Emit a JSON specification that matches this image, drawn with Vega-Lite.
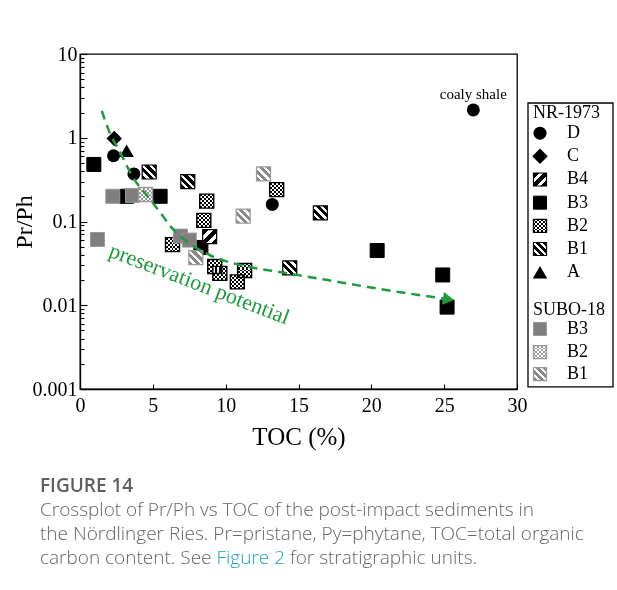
{
  "$schema": "https://vega.github.io/schema/vega-lite/v6.json",
  "background": "white",
  "padding": {"top": 43, "left": 11, "right": 0, "bottom": 0},
  "config": {
    "view": {"stroke": "black", "strokeWidth": 1.3},
    "axis": {
      "labelFont": "Liberation Serif",
      "titleFont": "Liberation Serif",
      "labelColor": "black",
      "titleColor": "black",
      "domainColor": "black",
      "domainWidth": 1.3,
      "tickColor": "black",
      "tickWidth": 1.1,
      "grid": false,
      "titleFontWeight": "normal"
    },
    "text": {"font": "Liberation Serif"}
  },
  "datasets": {
    "points": [
      {"core": "NR-1973", "unit": "D", "toc": 2.3, "prph": 0.61},
      {"core": "NR-1973", "unit": "D", "toc": 3.7, "prph": 0.37},
      {"core": "NR-1973", "unit": "D", "toc": 13.2, "prph": 0.16},
      {"core": "NR-1973", "unit": "D", "toc": 27.0, "prph": 2.15},
      {"core": "NR-1973", "unit": "C", "toc": 2.35, "prph": 0.98},
      {"core": "NR-1973", "unit": "A", "toc": 3.2, "prph": 0.7},
      {"core": "NR-1973", "unit": "B3", "toc": 0.95, "prph": 0.48},
      {"core": "NR-1973", "unit": "B3", "toc": 3.2, "prph": 0.2},
      {"core": "NR-1973", "unit": "B3", "toc": 5.5, "prph": 0.2},
      {"core": "NR-1973", "unit": "B3", "toc": 8.3, "prph": 0.049},
      {"core": "NR-1973", "unit": "B3", "toc": 20.4, "prph": 0.045},
      {"core": "NR-1973", "unit": "B3", "toc": 24.9, "prph": 0.023},
      {"core": "NR-1973", "unit": "B3", "toc": 25.2, "prph": 0.0095},
      {"core": "NR-1973", "unit": "B1", "toc": 4.75, "prph": 0.39},
      {"core": "NR-1973", "unit": "B1", "toc": 7.4, "prph": 0.3},
      {"core": "NR-1973", "unit": "B1", "toc": 16.5, "prph": 0.127},
      {"core": "NR-1973", "unit": "B1", "toc": 14.4, "prph": 0.028},
      {"core": "NR-1973", "unit": "B4", "toc": 8.9, "prph": 0.066},
      {"core": "NR-1973", "unit": "B2", "toc": 13.5, "prph": 0.24},
      {"core": "NR-1973", "unit": "B2", "toc": 8.7, "prph": 0.175},
      {"core": "NR-1973", "unit": "B2", "toc": 8.5, "prph": 0.103},
      {"core": "NR-1973", "unit": "B2", "toc": 6.35, "prph": 0.053},
      {"core": "NR-1973", "unit": "B2", "toc": 9.25, "prph": 0.029},
      {"core": "NR-1973", "unit": "B2", "toc": 9.6, "prph": 0.024},
      {"core": "NR-1973", "unit": "B2", "toc": 10.8, "prph": 0.019},
      {"core": "NR-1973", "unit": "B2", "toc": 11.3, "prph": 0.026},
      {"core": "SUBO-18", "unit": "B3", "toc": 1.2, "prph": 0.061},
      {"core": "SUBO-18", "unit": "B3", "toc": 2.25, "prph": 0.2},
      {"core": "SUBO-18", "unit": "B3", "toc": 3.6, "prph": 0.205},
      {"core": "SUBO-18", "unit": "B3", "toc": 6.9, "prph": 0.067},
      {"core": "SUBO-18", "unit": "B3", "toc": 7.5, "prph": 0.06},
      {"core": "SUBO-18", "unit": "B2", "toc": 4.5, "prph": 0.21},
      {"core": "SUBO-18", "unit": "B1", "toc": 12.6, "prph": 0.37},
      {"core": "SUBO-18", "unit": "B1", "toc": 11.2, "prph": 0.116},
      {"core": "SUBO-18", "unit": "B1", "toc": 7.95, "prph": 0.037}
    ],
    "trend": [
      {"toc": 1.5, "prph": 2.1},
      {"toc": 1.9, "prph": 1.32},
      {"toc": 2.9, "prph": 0.6},
      {"toc": 3.5, "prph": 0.37},
      {"toc": 4.9, "prph": 0.176},
      {"toc": 5.6, "prph": 0.122},
      {"toc": 6.2, "prph": 0.088},
      {"toc": 7.0, "prph": 0.064},
      {"toc": 7.85, "prph": 0.05},
      {"toc": 9.0, "prph": 0.039},
      {"toc": 11.5, "prph": 0.029},
      {"toc": 14.0, "prph": 0.0245},
      {"toc": 17.0, "prph": 0.02},
      {"toc": 19.75, "prph": 0.0165},
      {"toc": 22.0, "prph": 0.0143},
      {"toc": 25.3, "prph": 0.0118}
    ],
    "notes": [
      {"kind": "sample", "toc": 27.0, "prph": 3.33, "text": "coaly shale"},
      {"kind": "trend", "toc": 8.2, "prph": 0.018, "text": "preservation potential"}
    ],
    "legend": [
      {"kind": "header", "core": "NR-1973", "unit": "", "label": "NR-1973", "slot": 0},
      {"kind": "item", "core": "NR-1973", "unit": "D", "label": "D", "slot": 1},
      {"kind": "item", "core": "NR-1973", "unit": "C", "label": "C", "slot": 2},
      {"kind": "item", "core": "NR-1973", "unit": "B4", "label": "B4", "slot": 3},
      {"kind": "item", "core": "NR-1973", "unit": "B3", "label": "B3", "slot": 4},
      {"kind": "item", "core": "NR-1973", "unit": "B2", "label": "B2", "slot": 5},
      {"kind": "item", "core": "NR-1973", "unit": "B1", "label": "B1", "slot": 6},
      {"kind": "item", "core": "NR-1973", "unit": "A", "label": "A", "slot": 7},
      {"kind": "header", "core": "SUBO-18", "unit": "", "label": "SUBO-18", "slot": 8.5},
      {"kind": "item", "core": "SUBO-18", "unit": "B3", "label": "B3", "slot": 9.45},
      {"kind": "item", "core": "SUBO-18", "unit": "B2", "label": "B2", "slot": 10.45},
      {"kind": "item", "core": "SUBO-18", "unit": "B1", "label": "B1", "slot": 11.4}
    ],
    "caption": [
      {"line": 0, "part": "head", "text": "FIGURE 14"},
      {"line": 1, "part": "body", "text": "Crossplot of Pr/Ph vs TOC of the post-impact sediments in"},
      {"line": 2, "part": "body", "text": "the Nördlinger Ries. Pr=pristane, Py=phytane, TOC=total organic"},
      {"line": 3, "part": "linked", "text": "carbon content. See Figure 2 for stratigraphic units."}
    ]
  },
  "vconcat": [
    {
      "hconcat": [
        {
          "width": 437,
          "height": 335,
          "encoding": {
            "x": {
              "field": "toc",
              "type": "quantitative",
              "title": "TOC (%)",
              "scale": {"domain": [0, 30], "nice": false, "zero": false},
              "axis": {
                "values": [0, 5, 10, 15, 20, 25, 30],
                "tickSize": -5,
                "labelPadding": 11,
                "labelFontSize": 20,
                "labelFlush": false,
                "labelOverlap": false,
                "titleFontSize": 25,
                "titlePadding": 9
              }
            },
            "y": {
              "field": "prph",
              "type": "quantitative",
              "title": "Pr/Ph",
              "scale": {"type": "log", "domain": [0.001, 10], "nice": false},
              "axis": {
                "values": [0.001, 0.002, 0.003, 0.004, 0.005, 0.006, 0.007, 0.008, 0.009,
                           0.01, 0.02, 0.03, 0.04, 0.05, 0.06, 0.07, 0.08, 0.09,
                           0.1, 0.2, 0.3, 0.4, 0.5, 0.6, 0.7, 0.8, 0.9,
                           1, 2, 3, 4, 5, 6, 7, 8, 9, 10],
                "tickSize": {"condition": {"test": "indexof([0.001, 0.01, 0.1, 1, 10], datum.value) >= 0", "value": -7}, "value": -4},
                "labelExpr": "indexof([0.001, 0.01, 0.1, 1, 10], datum.value) >= 0 ? format(datum.value, '~g') : ''",
                "labelPadding": 10,
                "labelFontSize": 20,
                "labelBaseline": "middle",
                "labelFlush": false,
                "labelOverlap": false,
                "titleFontSize": 24,
                "titlePadding": -4
              }
            }
          },
          "layer": [
            {
              "data": {"name": "points"},
              "transform": [{"filter": "datum.core == 'NR-1973' && datum.unit == 'B3'"}],
              "mark": {"type": "point", "shape": "square", "filled": true, "size": 196, "fill": "black", "stroke": "black", "strokeWidth": 1, "opacity": 1}
            },
            {
              "data": {"name": "points"},
              "transform": [{"filter": "datum.core == 'NR-1973' && datum.unit == 'B2'"}],
              "layer": [
                {"mark": {"type": "point", "shape": "square", "filled": true, "size": 196, "opacity": 1, "strokeWidth": 0,
                  "fill": {"gradient": "linear", "x1": 0, "y1": 0, "x2": 1, "y2": 0, "stops": [
                    {"offset": 0, "color": "black"}, {"offset": 0.143, "color": "black"}, {"offset": 0.143, "color": "white"}, {"offset": 0.286, "color": "white"},
                    {"offset": 0.286, "color": "black"}, {"offset": 0.429, "color": "black"}, {"offset": 0.429, "color": "white"}, {"offset": 0.571, "color": "white"},
                    {"offset": 0.571, "color": "black"}, {"offset": 0.714, "color": "black"}, {"offset": 0.714, "color": "white"}, {"offset": 0.857, "color": "white"},
                    {"offset": 0.857, "color": "black"}, {"offset": 1, "color": "black"}]}}},
                {"mark": {"type": "point", "shape": "square", "filled": true, "size": 196, "opacity": 1, "strokeWidth": 0, "blend": "difference",
                  "fill": {"gradient": "linear", "x1": 0, "y1": 0, "x2": 0, "y2": 1, "stops": [
                    {"offset": 0, "color": "black"}, {"offset": 0.143, "color": "black"}, {"offset": 0.143, "color": "white"}, {"offset": 0.286, "color": "white"},
                    {"offset": 0.286, "color": "black"}, {"offset": 0.429, "color": "black"}, {"offset": 0.429, "color": "white"}, {"offset": 0.571, "color": "white"},
                    {"offset": 0.571, "color": "black"}, {"offset": 0.714, "color": "black"}, {"offset": 0.714, "color": "white"}, {"offset": 0.857, "color": "white"},
                    {"offset": 0.857, "color": "black"}, {"offset": 1, "color": "black"}]}}},
                {"mark": {"type": "point", "shape": "square", "filled": false, "size": 196, "opacity": 1, "stroke": "black", "strokeWidth": 1.4}}
              ]
            },
            {
              "data": {"name": "points"},
              "transform": [{"filter": "datum.core == 'NR-1973' && datum.unit == 'B1'"}],
              "mark": {"type": "point", "shape": "square", "filled": true, "size": 196, "opacity": 1, "stroke": "black", "strokeWidth": 1.2,
                "fill": {"gradient": "linear", "x1": 0, "y1": 1, "x2": 1, "y2": 0, "stops": [
                  {"offset": 0, "color": "black"}, {"offset": 0.17, "color": "black"}, {"offset": 0.17, "color": "white"}, {"offset": 0.29, "color": "white"},
                  {"offset": 0.29, "color": "black"}, {"offset": 0.44, "color": "black"}, {"offset": 0.44, "color": "white"}, {"offset": 0.56, "color": "white"},
                  {"offset": 0.56, "color": "black"}, {"offset": 0.71, "color": "black"}, {"offset": 0.71, "color": "white"}, {"offset": 0.83, "color": "white"},
                  {"offset": 0.83, "color": "black"}, {"offset": 1, "color": "black"}]}}
            },
            {
              "data": {"name": "points"},
              "transform": [{"filter": "datum.core == 'NR-1973' && datum.unit == 'B4'"}],
              "mark": {"type": "point", "shape": "square", "filled": true, "size": 196, "opacity": 1, "stroke": "black", "strokeWidth": 1.2,
                "fill": {"gradient": "linear", "x1": 0, "y1": 0, "x2": 1, "y2": 1, "stops": [
                  {"offset": 0, "color": "black"}, {"offset": 0.22, "color": "black"}, {"offset": 0.22, "color": "white"}, {"offset": 0.4, "color": "white"},
                  {"offset": 0.4, "color": "black"}, {"offset": 0.6, "color": "black"}, {"offset": 0.6, "color": "white"}, {"offset": 0.78, "color": "white"},
                  {"offset": 0.78, "color": "black"}, {"offset": 1, "color": "black"}]}}
            },
            {
              "data": {"name": "points"},
              "transform": [{"filter": "datum.core == 'NR-1973' && datum.unit == 'D'"}],
              "mark": {"type": "point", "shape": "circle", "filled": true, "size": 169, "color": "black", "opacity": 1}
            },
            {
              "data": {"name": "points"},
              "transform": [{"filter": "datum.core == 'NR-1973' && datum.unit == 'C'"}],
              "mark": {"type": "point", "shape": "diamond", "filled": true, "size": 240, "color": "black", "opacity": 1}
            },
            {
              "data": {"name": "points"},
              "transform": [{"filter": "datum.core == 'NR-1973' && datum.unit == 'A'"}],
              "mark": {"type": "point", "shape": "triangle-up", "filled": true, "size": 210, "color": "black", "opacity": 1}
            },
            {
              "data": {"name": "points"},
              "transform": [{"filter": "datum.core == 'SUBO-18' && datum.unit == 'B3'"}],
              "mark": {"type": "point", "shape": "square", "filled": true, "size": 196, "fill": "#7f7f7f", "stroke": "#999999", "strokeWidth": 1, "opacity": 1}
            },
            {
              "data": {"name": "points"},
              "transform": [{"filter": "datum.core == 'SUBO-18' && datum.unit == 'B2'"}],
              "layer": [
                {"mark": {"type": "point", "shape": "square", "filled": true, "size": 196, "opacity": 1, "strokeWidth": 0,
                  "fill": {"gradient": "linear", "x1": 0, "y1": 0, "x2": 1, "y2": 0, "stops": [
                    {"offset": 0, "color": "black"}, {"offset": 0.143, "color": "black"}, {"offset": 0.143, "color": "white"}, {"offset": 0.286, "color": "white"},
                    {"offset": 0.286, "color": "black"}, {"offset": 0.429, "color": "black"}, {"offset": 0.429, "color": "white"}, {"offset": 0.571, "color": "white"},
                    {"offset": 0.571, "color": "black"}, {"offset": 0.714, "color": "black"}, {"offset": 0.714, "color": "white"}, {"offset": 0.857, "color": "white"},
                    {"offset": 0.857, "color": "black"}, {"offset": 1, "color": "black"}]}}},
                {"mark": {"type": "point", "shape": "square", "filled": true, "size": 196, "opacity": 1, "strokeWidth": 0, "blend": "difference",
                  "fill": {"gradient": "linear", "x1": 0, "y1": 0, "x2": 0, "y2": 1, "stops": [
                    {"offset": 0, "color": "black"}, {"offset": 0.143, "color": "black"}, {"offset": 0.143, "color": "white"}, {"offset": 0.286, "color": "white"},
                    {"offset": 0.286, "color": "black"}, {"offset": 0.429, "color": "black"}, {"offset": 0.429, "color": "white"}, {"offset": 0.571, "color": "white"},
                    {"offset": 0.571, "color": "black"}, {"offset": 0.714, "color": "black"}, {"offset": 0.714, "color": "white"}, {"offset": 0.857, "color": "white"},
                    {"offset": 0.857, "color": "black"}, {"offset": 1, "color": "black"}]}}},
                {"mark": {"type": "point", "shape": "square", "filled": true, "size": 196, "opacity": 1, "fill": "white", "fillOpacity": 0.6, "strokeWidth": 0}},
                {"mark": {"type": "point", "shape": "square", "filled": false, "size": 196, "opacity": 1, "stroke": "#999999", "strokeWidth": 1.4}}
              ]
            },
            {
              "data": {"name": "points"},
              "transform": [{"filter": "datum.core == 'SUBO-18' && datum.unit == 'B1'"}],
              "mark": {"type": "point", "shape": "square", "filled": true, "size": 196, "opacity": 1, "stroke": "#999999", "strokeWidth": 1.2,
                "fill": {"gradient": "linear", "x1": 0, "y1": 1, "x2": 1, "y2": 0, "stops": [
                  {"offset": 0, "color": "#888888"}, {"offset": 0.17, "color": "#888888"}, {"offset": 0.17, "color": "white"}, {"offset": 0.29, "color": "white"},
                  {"offset": 0.29, "color": "#888888"}, {"offset": 0.44, "color": "#888888"}, {"offset": 0.44, "color": "white"}, {"offset": 0.56, "color": "white"},
                  {"offset": 0.56, "color": "#888888"}, {"offset": 0.71, "color": "#888888"}, {"offset": 0.71, "color": "white"}, {"offset": 0.83, "color": "white"},
                  {"offset": 0.83, "color": "#888888"}, {"offset": 1, "color": "#888888"}]}}
            },
            {
              "data": {"name": "trend"},
              "mark": {"type": "line", "color": "#1f9a3f", "strokeWidth": 2.5, "strokeDash": [9, 6], "interpolate": "monotone"}
            },
            {
              "data": {"name": "trend"},
              "transform": [
                {"joinaggregate": [{"op": "max", "field": "toc", "as": "end"}]},
                {"filter": "datum.toc == datum.end"}
              ],
              "mark": {"type": "point", "shape": "triangle-right", "filled": true, "size": 170, "color": "#1f9a3f", "angle": 9, "opacity": 1}
            },
            {
              "data": {"name": "notes"},
              "transform": [{"filter": "datum.kind == 'sample'"}],
              "mark": {"type": "text", "font": "Liberation Serif", "fontSize": 15, "color": "black", "align": "center", "baseline": "middle"},
              "encoding": {"text": {"field": "text"}}
            },
            {
              "data": {"name": "notes"},
              "transform": [{"filter": "datum.kind == 'trend'"}],
              "mark": {"type": "text", "font": "Liberation Serif", "fontSize": 22, "color": "#1f9a3f", "angle": 21, "align": "center", "baseline": "middle"},
              "encoding": {"text": {"field": "text"}}
            }
          ]
        },
        {
          "width": 85,
          "height": 335,
          "view": {"stroke": null},
          "data": {"name": "legend"},
          "encoding": {
            "y": {"field": "slot", "type": "quantitative", "scale": {"domain": [-2.414, 12.04], "reverse": true, "nice": false, "zero": false}, "axis": null}
          },
          "layer": [
            {
              "transform": [{"filter": "datum.kind == 'header' && datum.core == 'NR-1973'"}],
              "mark": {"type": "rect", "filled": false, "stroke": "black", "strokeWidth": 1.3},
              "encoding": {"y": {"datum": -0.3}, "y2": {"datum": 11.95}}
            },
            {
              "encoding": {
                "x": {"datum": 0, "type": "quantitative", "scale": {"domain": [0, 1], "range": [12, 39]}, "axis": null}
              },
              "layer": [
                {
                  "transform": [{"filter": "datum.kind == 'header'"}],
                  "mark": {"type": "text", "font": "Liberation Serif", "fontSize": 18, "color": "black", "align": "left", "baseline": "middle", "dx": -7, "dy": 3},
                  "encoding": {"text": {"field": "label"}}
                },
                {
                  "transform": [{"filter": "datum.kind == 'item'"}],
                  "mark": {"type": "text", "font": "Liberation Serif", "fontSize": 18, "color": "black", "align": "left", "baseline": "middle"},
                  "encoding": {"x": {"datum": 1, "type": "quantitative"}, "text": {"field": "label"}}
                },
                {
                  "transform": [{"filter": "datum.core == 'NR-1973' && datum.unit == 'D'"}],
                  "mark": {"type": "point", "shape": "circle", "filled": true, "size": 169, "color": "black", "opacity": 1}
                },
                {
                  "transform": [{"filter": "datum.core == 'NR-1973' && datum.unit == 'C'"}],
                  "mark": {"type": "point", "shape": "diamond", "filled": true, "size": 240, "color": "black", "opacity": 1}
                },
                {
                  "transform": [{"filter": "datum.core == 'NR-1973' && datum.unit == 'B4'"}],
                  "mark": {"type": "point", "shape": "square", "filled": true, "size": 169, "opacity": 1, "stroke": "black", "strokeWidth": 1.2,
                    "fill": {"gradient": "linear", "x1": 0, "y1": 0, "x2": 1, "y2": 1, "stops": [
                      {"offset": 0, "color": "black"}, {"offset": 0.22, "color": "black"}, {"offset": 0.22, "color": "white"}, {"offset": 0.4, "color": "white"},
                      {"offset": 0.4, "color": "black"}, {"offset": 0.6, "color": "black"}, {"offset": 0.6, "color": "white"}, {"offset": 0.78, "color": "white"},
                      {"offset": 0.78, "color": "black"}, {"offset": 1, "color": "black"}]}}
                },
                {
                  "transform": [{"filter": "datum.core == 'NR-1973' && datum.unit == 'B3'"}],
                  "mark": {"type": "point", "shape": "square", "filled": true, "size": 169, "fill": "black", "stroke": "black", "strokeWidth": 1, "opacity": 1}
                },
                {
                  "transform": [{"filter": "datum.core == 'NR-1973' && datum.unit == 'B2'"}],
                  "layer": [
                    {"mark": {"type": "point", "shape": "square", "filled": true, "size": 169, "opacity": 1, "strokeWidth": 0,
                      "fill": {"gradient": "linear", "x1": 0, "y1": 0, "x2": 1, "y2": 0, "stops": [
                        {"offset": 0, "color": "black"}, {"offset": 0.143, "color": "black"}, {"offset": 0.143, "color": "white"}, {"offset": 0.286, "color": "white"},
                        {"offset": 0.286, "color": "black"}, {"offset": 0.429, "color": "black"}, {"offset": 0.429, "color": "white"}, {"offset": 0.571, "color": "white"},
                        {"offset": 0.571, "color": "black"}, {"offset": 0.714, "color": "black"}, {"offset": 0.714, "color": "white"}, {"offset": 0.857, "color": "white"},
                        {"offset": 0.857, "color": "black"}, {"offset": 1, "color": "black"}]}}},
                    {"mark": {"type": "point", "shape": "square", "filled": true, "size": 169, "opacity": 1, "strokeWidth": 0, "blend": "difference",
                      "fill": {"gradient": "linear", "x1": 0, "y1": 0, "x2": 0, "y2": 1, "stops": [
                        {"offset": 0, "color": "black"}, {"offset": 0.143, "color": "black"}, {"offset": 0.143, "color": "white"}, {"offset": 0.286, "color": "white"},
                        {"offset": 0.286, "color": "black"}, {"offset": 0.429, "color": "black"}, {"offset": 0.429, "color": "white"}, {"offset": 0.571, "color": "white"},
                        {"offset": 0.571, "color": "black"}, {"offset": 0.714, "color": "black"}, {"offset": 0.714, "color": "white"}, {"offset": 0.857, "color": "white"},
                        {"offset": 0.857, "color": "black"}, {"offset": 1, "color": "black"}]}}},
                    {"mark": {"type": "point", "shape": "square", "filled": false, "size": 169, "opacity": 1, "stroke": "black", "strokeWidth": 1.4}}
                  ]
                },
                {
                  "transform": [{"filter": "datum.core == 'NR-1973' && datum.unit == 'B1'"}],
                  "mark": {"type": "point", "shape": "square", "filled": true, "size": 169, "opacity": 1, "stroke": "black", "strokeWidth": 1.2,
                    "fill": {"gradient": "linear", "x1": 0, "y1": 1, "x2": 1, "y2": 0, "stops": [
                      {"offset": 0, "color": "black"}, {"offset": 0.17, "color": "black"}, {"offset": 0.17, "color": "white"}, {"offset": 0.29, "color": "white"},
                      {"offset": 0.29, "color": "black"}, {"offset": 0.44, "color": "black"}, {"offset": 0.44, "color": "white"}, {"offset": 0.56, "color": "white"},
                      {"offset": 0.56, "color": "black"}, {"offset": 0.71, "color": "black"}, {"offset": 0.71, "color": "white"}, {"offset": 0.83, "color": "white"},
                      {"offset": 0.83, "color": "black"}, {"offset": 1, "color": "black"}]}}
                },
                {
                  "transform": [{"filter": "datum.core == 'NR-1973' && datum.unit == 'A'"}],
                  "mark": {"type": "point", "shape": "triangle-up", "filled": true, "size": 210, "color": "black", "opacity": 1}
                },
                {
                  "transform": [{"filter": "datum.core == 'SUBO-18' && datum.unit == 'B3'"}],
                  "mark": {"type": "point", "shape": "square", "filled": true, "size": 169, "fill": "#7f7f7f", "stroke": "#999999", "strokeWidth": 1, "opacity": 1}
                },
                {
                  "transform": [{"filter": "datum.core == 'SUBO-18' && datum.unit == 'B2'"}],
                  "layer": [
                    {"mark": {"type": "point", "shape": "square", "filled": true, "size": 169, "opacity": 1, "strokeWidth": 0,
                      "fill": {"gradient": "linear", "x1": 0, "y1": 0, "x2": 1, "y2": 0, "stops": [
                        {"offset": 0, "color": "black"}, {"offset": 0.143, "color": "black"}, {"offset": 0.143, "color": "white"}, {"offset": 0.286, "color": "white"},
                        {"offset": 0.286, "color": "black"}, {"offset": 0.429, "color": "black"}, {"offset": 0.429, "color": "white"}, {"offset": 0.571, "color": "white"},
                        {"offset": 0.571, "color": "black"}, {"offset": 0.714, "color": "black"}, {"offset": 0.714, "color": "white"}, {"offset": 0.857, "color": "white"},
                        {"offset": 0.857, "color": "black"}, {"offset": 1, "color": "black"}]}}},
                    {"mark": {"type": "point", "shape": "square", "filled": true, "size": 169, "opacity": 1, "strokeWidth": 0, "blend": "difference",
                      "fill": {"gradient": "linear", "x1": 0, "y1": 0, "x2": 0, "y2": 1, "stops": [
                        {"offset": 0, "color": "black"}, {"offset": 0.143, "color": "black"}, {"offset": 0.143, "color": "white"}, {"offset": 0.286, "color": "white"},
                        {"offset": 0.286, "color": "black"}, {"offset": 0.429, "color": "black"}, {"offset": 0.429, "color": "white"}, {"offset": 0.571, "color": "white"},
                        {"offset": 0.571, "color": "black"}, {"offset": 0.714, "color": "black"}, {"offset": 0.714, "color": "white"}, {"offset": 0.857, "color": "white"},
                        {"offset": 0.857, "color": "black"}, {"offset": 1, "color": "black"}]}}},
                    {"mark": {"type": "point", "shape": "square", "filled": true, "size": 169, "opacity": 1, "fill": "white", "fillOpacity": 0.6, "strokeWidth": 0}},
                    {"mark": {"type": "point", "shape": "square", "filled": false, "size": 169, "opacity": 1, "stroke": "#999999", "strokeWidth": 1.4}}
                  ]
                },
                {
                  "transform": [{"filter": "datum.core == 'SUBO-18' && datum.unit == 'B1'"}],
                  "mark": {"type": "point", "shape": "square", "filled": true, "size": 169, "opacity": 1, "stroke": "#999999", "strokeWidth": 1.2,
                    "fill": {"gradient": "linear", "x1": 0, "y1": 1, "x2": 1, "y2": 0, "stops": [
                      {"offset": 0, "color": "#888888"}, {"offset": 0.17, "color": "#888888"}, {"offset": 0.17, "color": "white"}, {"offset": 0.29, "color": "white"},
                      {"offset": 0.29, "color": "#888888"}, {"offset": 0.44, "color": "#888888"}, {"offset": 0.44, "color": "white"}, {"offset": 0.56, "color": "white"},
                      {"offset": 0.56, "color": "#888888"}, {"offset": 0.71, "color": "#888888"}, {"offset": 0.71, "color": "white"}, {"offset": 0.83, "color": "white"},
                      {"offset": 0.83, "color": "#888888"}, {"offset": 1, "color": "#888888"}]}}
                }
              ]
            }
          ]
        }
      ],
      "spacing": -1,
      "bounds": "full"
    },
    {
      "width": 580,
      "height": 72,
      "view": {"stroke": null},
      "data": {"name": "caption"},
      "encoding": {
        "x": {"datum": 0, "type": "quantitative", "scale": {"domain": [0, 1], "range": [-40, 500]}, "axis": null},
        "y": {"field": "line", "type": "quantitative", "scale": {"domain": [0, 3], "reverse": true, "nice": false, "zero": false}, "axis": null},
        "text": {"field": "text"}
      },
      "layer": [
        {
          "transform": [{"filter": "datum.part == 'head'"}],
          "mark": {"type": "text", "font": "Open Sans", "fontSize": 19, "fontWeight": 600, "color": "#5f5f5f", "align": "left", "baseline": "middle"}
        },
        {
          "transform": [{"filter": "datum.part == 'body'"}],
          "mark": {"type": "text", "font": "Open Sans", "fontSize": 19, "fontWeight": 300, "color": "#666666", "align": "left", "baseline": "middle"}
        },
        {
          "transform": [{"filter": "datum.part == 'linked'"}],
          "mark": {"type": "text", "font": "Open Sans", "fontSize": 19, "fontWeight": 300, "align": "left", "baseline": "middle",
            "fill": {"gradient": "linear", "x1": 0, "y1": 0, "x2": 1, "y2": 0, "stops": [
              {"offset": 0, "color": "#666666"}, {"offset": 0.396, "color": "#666666"},
              {"offset": 0.396, "color": "#1aa0c8"}, {"offset": 0.563, "color": "#1aa0c8"},
              {"offset": 0.563, "color": "#666666"}, {"offset": 1, "color": "#666666"}]}}
        }
      ]
    }
  ],
  "spacing": 27
}
